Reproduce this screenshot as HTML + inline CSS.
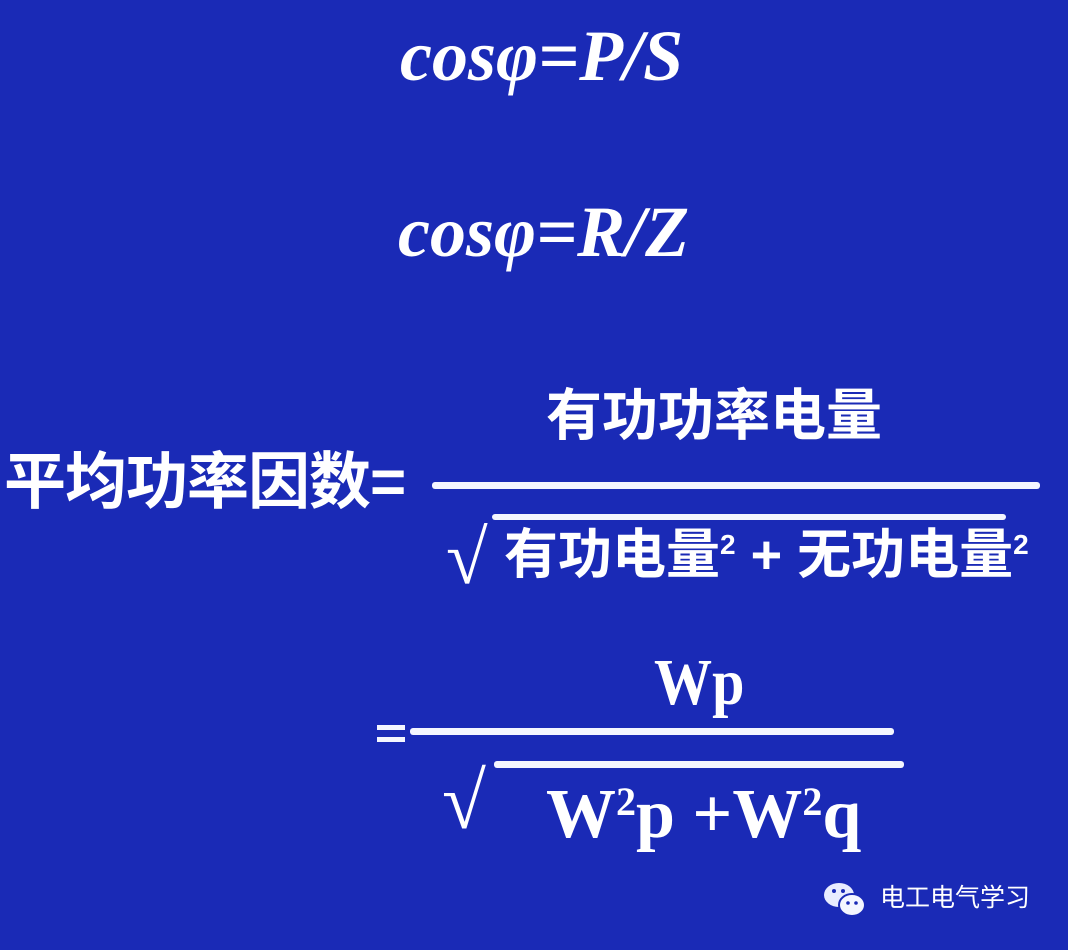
<!DOCTYPE html>
<html><head><meta charset="utf-8"><style>
html,body{margin:0;padding:0;}
body{width:1068px;height:950px;background:#1a2ab6;position:relative;overflow:hidden;color:#fff;}
.a{position:absolute;white-space:nowrap;line-height:1;}
.it{font-family:"Liberation Serif",serif;font-style:italic;font-weight:bold;font-size:72px;}
.cj{font-family:"Liberation Sans","Noto Sans CJK SC",sans-serif;font-weight:bold;}
.sf{font-family:"Liberation Serif",serif;font-weight:bold;}
.bar{position:absolute;background:#f4f6ff;border-radius:3px;}
</style></head><body>
<div class="a it" style="left:400px;top:20px;">cosφ=P/S</div>
<div class="a it" style="left:398px;top:196px;">cosφ=R/Z</div>

<div class="a cj" style="left:546px;top:388px;font-size:56px;">有功功率电量</div>
<div class="a cj" style="left:4px;top:452px;font-size:62px;letter-spacing:-1px;">平均功率因数=</div>
<div class="bar" style="left:432px;top:482px;width:608px;height:7px;"></div>
<div class="bar" style="left:492px;top:514px;width:514px;height:6px;"></div>
<div class="a sf" style="left:446px;top:520px;font-size:76px;">√</div>
<div class="a cj" style="left:504px;top:528px;font-size:54px;">有功电量<sup style="font-size:28px;">2</sup> + 无功电量<sup style="font-size:28px;">2</sup></div>

<div class="a sf" style="left:654px;top:650px;font-size:66px;transform:scaleX(0.88);transform-origin:left top;">Wp</div>
<div class="bar" style="left:377px;top:725px;width:28px;height:5px;border-radius:0"></div>
<div class="bar" style="left:377px;top:737px;width:28px;height:5px;border-radius:0"></div>
<div class="bar" style="left:410px;top:728px;width:484px;height:7px;"></div>
<div class="bar" style="left:494px;top:761px;width:410px;height:7px;"></div>
<div class="a sf" style="left:442px;top:762px;font-size:80px;">√</div>
<div class="a sf" style="left:546px;top:780px;font-size:70px;">W<span style="font-size:40px;vertical-align:22px;">2</span>p +W<span style="font-size:40px;vertical-align:22px;">2</span>q</div>

<svg class="a" style="left:822px;top:880px;" width="48" height="40" viewBox="0 0 48 40">
<ellipse cx="17" cy="15" rx="15" ry="12" fill="#e8ecff"/>
<ellipse cx="30" cy="25" rx="13" ry="11" fill="#f4f6ff" stroke="#1a2ab6" stroke-width="2"/>
<circle cx="12" cy="11" r="2" fill="#1a2ab6"/><circle cx="21" cy="11" r="2" fill="#1a2ab6"/>
<circle cx="26" cy="23" r="1.8" fill="#1a2ab6"/><circle cx="34" cy="23" r="1.8" fill="#1a2ab6"/>
</svg>
<div class="a cj" style="left:880px;top:886px;font-size:25px;font-weight:normal;">电工电气学习</div>
</body></html>
